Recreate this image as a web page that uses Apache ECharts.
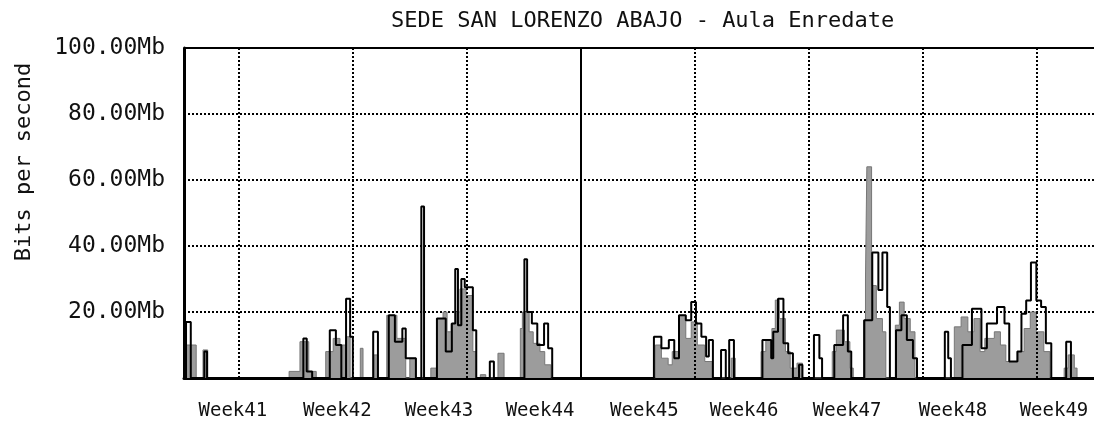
<!DOCTYPE html>
<html>
<head>
<meta charset="utf-8">
<script src="https://cdn.jsdelivr.net/npm/echarts@6/dist/echarts.min.js"></script>
<style>
  html, body { margin: 0; padding: 0; background: #fff; }
  #chart { width: 1094px; height: 428px; }
</style>
</head>
<body>
<div id="chart"></div>
<script>
// x is hours from the left edge of the graph, y is Mb
const weekLabels = ['Week41', 'Week42', 'Week43', 'Week44', 'Week45', 'Week46', 'Week47', 'Week48', 'Week49'];
const weekLabelHours = [72, 226, 376, 525, 679, 826, 978, 1134, 1283];
const weekLineHours = [81, 249, 417, 753, 921, 1089, 1257];
const splitHour = 585;
const yTicks = [20, 40, 60, 80, 100];

// outgoing (black step line): [hour, Mb] held until next hour
const outSteps = [
  [0, 0], [3, 17], [10, 0], [30, 8], [34, 0], [176, 12], [181, 2], [189, 0],
  [215, 14.5], [224, 10], [232, 0], [239, 24], [245, 12.5], [249, 0], [279, 14], [286, 0],
  [302, 19], [311, 11], [322, 15], [327, 6], [342, 0], [350, 52], [354, 0],
  [373, 18], [386, 8], [395, 16.5], [400, 33], [404, 16], [409, 30], [414, 27.5], [426, 14.5], [431, 0],
  [451, 5], [457, 0], [502, 36], [506, 20], [513, 16.5], [521, 10], [531, 16.5], [537, 9], [543, 0],
  [693, 12.5], [704, 9], [715, 11.5], [723, 6], [730, 19], [740, 17.5], [748, 23], [755, 16.5],
  [763, 12.5], [770, 6.5], [774, 11.5], [780, 0], [792, 8.5], [799, 0], [804, 11.5], [811, 0],
  [853, 11.5], [866, 6], [869, 14], [876, 24], [884, 10.5], [891, 7.5], [898, 0], [907, 4], [912, 0],
  [929, 13], [937, 6], [941, 0], [959, 10], [972, 19], [979, 8], [984, 0],
  [1003, 17.5], [1015, 38], [1024, 26.7], [1030, 38], [1037, 21.5], [1041, 0],
  [1050, 14.5], [1058, 19], [1066, 11.5], [1075, 6], [1081, 0],
  [1122, 14], [1127, 6], [1131, 0], [1148, 10], [1162, 21], [1176, 9], [1184, 16.5], [1199, 21.5],
  [1210, 16.5], [1217, 5], [1229, 8], [1235, 19.5], [1242, 23.5], [1249, 35], [1257, 23.5],
  [1264, 21.5], [1271, 10.5], [1279, 0], [1301, 11], [1308, 0], [1342, 0]
];

// incoming (grey area)
const inSteps = [
  [0, 0], [3, 10], [18, 0], [28, 8.5], [35, 0], [155, 2], [171, 11], [184, 2], [195, 0],
  [209, 8], [220, 12], [230, 10], [239, 12.5], [245, 0], [260, 9], [264, 0], [280, 7], [286, 0],
  [299, 19], [314, 12], [327, 0], [333, 6], [342, 0], [364, 3], [373, 18], [382, 20], [388, 14],
  [394, 16.5], [401, 20], [407, 27], [416, 25], [426, 8], [431, 0], [437, 1], [445, 0],
  [463, 7.5], [472, 0], [496, 15], [499, 20], [509, 14], [515, 10.5], [525, 8], [532, 4], [541, 0],
  [695, 10], [704, 6], [714, 4], [720, 8], [730, 19], [740, 12], [748, 17], [757, 10], [768, 5], [779, 0],
  [807, 6], [813, 0], [851, 8], [858, 11.5], [867, 15], [872, 23.6], [878, 18], [887, 8], [894, 3],
  [904, 4.5], [912, 0], [956, 8], [962, 14.5], [974, 11], [982, 3], [987, 0],
  [1005, 30], [1007, 64], [1014, 28], [1021, 18], [1030, 14], [1035, 0],
  [1049, 16], [1055, 23], [1062, 18], [1071, 14], [1078, 0],
  [1136, 15.5], [1146, 18.5], [1156, 14], [1165, 18], [1174, 8], [1181, 12], [1195, 14], [1204, 10],
  [1212, 5], [1230, 8], [1239, 15], [1248, 20], [1257, 14], [1268, 8], [1277, 0],
  [1298, 3], [1304, 7], [1313, 3], [1317, 0], [1342, 0]
];

const mono = '"DejaVu Sans Mono", monospace';

const chart = echarts.init(document.getElementById('chart'));

const gridLines = weekLineHours.map(h => ({ xAxis: h }));
gridLines.push({ xAxis: splitHour, lineStyle: { type: 'solid', width: 2 } });
gridLines.push({ yAxis: 100, lineStyle: { type: 'solid', width: 2 } });

chart.setOption({
  animation: false,
  title: {
    text: 'SEDE SAN LORENZO ABAJO - Aula Enredate',
    left: 386,
    top: 5,
    textStyle: { fontFamily: mono, fontSize: 22, fontWeight: 'normal', color: '#111' }
  },
  graphic: [{
    type: 'text',
    x: 24,
    y: 162,
    rotation: Math.PI / 2,
    style: {
      text: 'Bits per second',
      font: '22px ' + mono,
      fill: '#111',
      align: 'center',
      verticalAlign: 'middle',
      textAlign: 'center',
      textVerticalAlign: 'middle'
    }
  }],
  grid: { left: 184, right: 0, top: 48, bottom: 50 },
  xAxis: {
    type: 'value',
    min: 0,
    max: 1342,
    axisLine: { show: true, lineStyle: { color: '#000', width: 3 } },
    axisTick: { show: false },
    splitLine: { show: false },
    axisLabel: {
      customValues: weekLabelHours,
      formatter: v => weekLabels[weekLabelHours.indexOf(v)] || '',
      margin: 24,
      fontFamily: mono,
      fontSize: 19,
      color: '#111'
    }
  },
  yAxis: {
    type: 'value',
    min: 0,
    max: 100,
    interval: 20,
    axisLine: { show: true, lineStyle: { color: '#000', width: 3 } },
    axisTick: { show: false },
    splitLine: { show: true, lineStyle: { color: '#000', type: [2, 2], width: 2 } },
    axisLabel: {
      customValues: yTicks,
      formatter: v => v.toFixed(2) + 'Mb',
      margin: 19,
      fontFamily: mono,
      fontSize: 23,
      color: '#111'
    }
  },
  series: [
    {
      name: 'In',
      type: 'line',
      step: 'end',
      data: inSteps,
      symbol: 'none',
      lineStyle: { color: '#777', width: 1 },
      areaStyle: { color: '#9c9c9c', opacity: 1 },
      z: 2
    },
    {
      name: 'Out',
      type: 'line',
      step: 'end',
      data: outSteps,
      symbol: 'none',
      lineStyle: { color: '#000', width: 2 },
      z: 3,
      markLine: {
        silent: true,
        symbol: ['none', 'none'],
        label: { show: false },
        lineStyle: { color: '#000', type: [2, 2], width: 2 },
        data: gridLines
      }
    }
  ]
});
</script>
</body>
</html>
